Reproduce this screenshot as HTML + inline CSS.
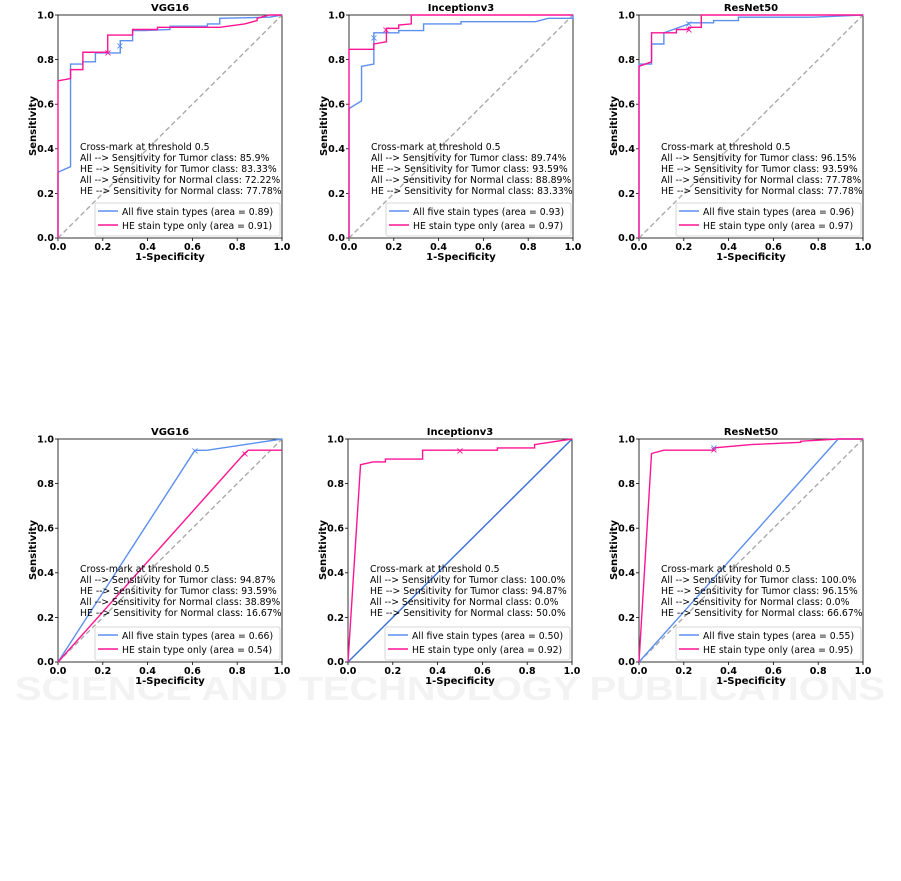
<!DOCTYPE html>
<html><head><meta charset="utf-8"><style>
html,body{margin:0;padding:0;background:#fff}
svg{display:block;font-family:"DejaVu Sans","Liberation Sans",sans-serif}
.t{font-size:9.3px;fill:#000}
.tk{font-size:9.5px;font-weight:bold;fill:#000}
.ttl{font-size:10px;font-weight:bold;text-anchor:middle}
.ax{font-size:10px;font-weight:bold;text-anchor:middle}
.b{fill:none;stroke:#5b8ff0;stroke-width:1.4}
.p{fill:none;stroke:#ff1493;stroke-width:1.4}
.d{fill:none;stroke:#aaa;stroke-width:1.4;stroke-dasharray:5,3}
.n{vector-effect:non-scaling-stroke}
</style></head><body>
<svg width="901" height="881" viewBox="0 0 901 881" xmlns="http://www.w3.org/2000/svg">
<defs>
<g id="frame">
<rect x="0" y="0" width="224" height="223" fill="none" stroke="#000" stroke-width="0.8"/>
<g stroke="#000" stroke-width="0.8">
<line x1="0" y1="223" x2="0" y2="226"/><line x1="44.8" y1="223" x2="44.8" y2="226"/><line x1="89.6" y1="223" x2="89.6" y2="226"/><line x1="134.4" y1="223" x2="134.4" y2="226"/><line x1="179.2" y1="223" x2="179.2" y2="226"/><line x1="224" y1="223" x2="224" y2="226"/>
<line x1="0" y1="0" x2="-3" y2="0"/><line x1="0" y1="44.6" x2="-3" y2="44.6"/><line x1="0" y1="89.2" x2="-3" y2="89.2"/><line x1="0" y1="133.8" x2="-3" y2="133.8"/><line x1="0" y1="178.4" x2="-3" y2="178.4"/><line x1="0" y1="223" x2="-3" y2="223"/>
</g>
<g class="tk" text-anchor="middle">
<text x="0" y="235">0.0</text><text x="44.8" y="235">0.2</text><text x="89.6" y="235">0.4</text><text x="134.4" y="235">0.6</text><text x="179.2" y="235">0.8</text><text x="224" y="235">1.0</text>
</g>
<g class="tk" text-anchor="end">
<text x="-4" y="226">0.0</text><text x="-4" y="181.8">0.2</text><text x="-4" y="137.2">0.4</text><text x="-4" y="92.6">0.6</text><text x="-4" y="48">0.8</text><text x="-4" y="3.4">1.0</text>
</g>
<text class="ax" x="112" y="245">1-Specificity</text>
<text class="ax" transform="translate(-22,111) rotate(-90)">Sensitivity</text>
<rect x="37" y="188" width="185" height="33" fill="#fff" fill-opacity="0.85" stroke="#ccc" stroke-width="0.8" rx="2"/>
<line x1="40" y1="196" x2="60" y2="196" stroke="#5b8ff0" stroke-width="1.4"/>
<line x1="40" y1="210" x2="60" y2="210" stroke="#ff1493" stroke-width="1.4"/>
</g>
</defs>

<g fill="#f3f3f3" font-family="Liberation Sans,sans-serif" font-weight="bold">
<text x="450" y="700" font-size="33" text-anchor="middle" textLength="870" lengthAdjust="spacingAndGlyphs">SCIENCE AND TECHNOLOGY PUBLICATIONS</text>
</g>

<!-- Top left VGG16 -->
<g transform="translate(58,15)">
<use href="#frame"/>
<text class="ttl" x="112" y="-4">VGG16</text>
<g transform="translate(0,223) scale(224,-223)">
<polyline class="d n" points="0,0 1,1"/>
<polyline class="b n" points="0,0 0,0.295 0.056,0.32 0.056,0.78 0.111,0.78 0.111,0.79 0.167,0.79 0.167,0.83 0.278,0.83 0.278,0.885 0.333,0.885 0.333,0.93 0.389,0.93 0.5,0.935 0.5,0.95 0.667,0.95 0.667,0.96 0.722,0.96 0.722,0.985 0.944,0.99 1,1"/>
<polyline class="p n" points="0,0 0,0.705 0.056,0.715 0.056,0.755 0.111,0.755 0.111,0.833 0.222,0.833 0.222,0.91 0.333,0.91 0.333,0.935 0.444,0.935 0.444,0.945 0.722,0.945 0.833,0.96 0.889,0.975 0.889,0.985 0.944,1 1,1"/>
</g>
<text x="62" y="34" fill="#5b8ff0" font-size="10" text-anchor="middle">×</text>
<text x="50" y="41" fill="#ff1493" font-size="10" text-anchor="middle">×</text>
<g class="t"><text x="22" y="135">Cross-mark at threshold 0.5</text><text x="22" y="146">All --&gt; Sensitivity for Tumor class: 85.9%</text><text x="22" y="157">HE --&gt; Sensitivity for Tumor class: 83.33%</text><text x="22" y="168">All --&gt; Sensitivity for Normal class: 72.22%</text><text x="22" y="179">HE --&gt; Sensitivity for Normal class: 77.78%</text>
<text x="64" y="200">All five stain types (area = 0.89)</text><text x="64" y="214">HE stain type only (area = 0.91)</text></g>
</g>

<!-- Top middle Inceptionv3 -->
<g transform="translate(349,15)">
<use href="#frame"/>
<text class="ttl" x="112" y="-4">Inceptionv3</text>
<g transform="translate(0,223) scale(224,-223)">
<polyline class="d n" points="0,0 1,1"/>
<polyline class="b n" points="0,0 0,0.58 0.056,0.615 0.056,0.77 0.111,0.78 0.111,0.92 0.222,0.92 0.222,0.93 0.333,0.93 0.333,0.96 0.5,0.96 0.5,0.97 0.833,0.97 0.889,0.985 1,0.985 1,1"/>
<polyline class="p n" points="0,0 0,0.846 0.111,0.846 0.111,0.87 0.167,0.88 0.167,0.94 0.222,0.94 0.222,0.955 0.278,0.96 0.278,1 1,1"/>
</g>
<text x="25" y="26" fill="#5b8ff0" font-size="10" text-anchor="middle">×</text>
<text x="37" y="18" fill="#ff1493" font-size="10" text-anchor="middle">×</text>
<g class="t"><text x="22" y="135">Cross-mark at threshold 0.5</text><text x="22" y="146">All --&gt; Sensitivity for Tumor class: 89.74%</text><text x="22" y="157">HE --&gt; Sensitivity for Tumor class: 93.59%</text><text x="22" y="168">All --&gt; Sensitivity for Normal class: 88.89%</text><text x="22" y="179">HE --&gt; Sensitivity for Normal class: 83.33%</text>
<text x="64" y="200">All five stain types (area = 0.93)</text><text x="64" y="214">HE stain type only (area = 0.97)</text></g>
</g>

<!-- Top right ResNet50 -->
<g transform="translate(639,15)">
<use href="#frame"/>
<text class="ttl" x="112" y="-4">ResNet50</text>
<g transform="translate(0,223) scale(224,-223)">
<polyline class="d n" points="0,0 1,1"/>
<polyline class="b n" points="0,0 0,0.78 0.056,0.78 0.056,0.87 0.111,0.87 0.111,0.92 0.222,0.96 0.222,0.965 0.333,0.965 0.333,0.975 0.444,0.975 0.444,0.99 0.778,0.99 1,1"/>
<polyline class="p n" points="0,0 0,0.77 0.056,0.79 0.056,0.92 0.167,0.92 0.167,0.935 0.222,0.935 0.222,0.945 0.278,0.945 0.278,1 1,1"/>
</g>
<text x="50" y="12" fill="#5b8ff0" font-size="10" text-anchor="middle">×</text>
<text x="50" y="18" fill="#ff1493" font-size="10" text-anchor="middle">×</text>
<g class="t"><text x="22" y="135">Cross-mark at threshold 0.5</text><text x="22" y="146">All --&gt; Sensitivity for Tumor class: 96.15%</text><text x="22" y="157">HE --&gt; Sensitivity for Tumor class: 93.59%</text><text x="22" y="168">All --&gt; Sensitivity for Normal class: 77.78%</text><text x="22" y="179">HE --&gt; Sensitivity for Normal class: 77.78%</text>
<text x="64" y="200">All five stain types (area = 0.96)</text><text x="64" y="214">HE stain type only (area = 0.97)</text></g>
</g>

<!-- Bottom left VGG16 -->
<g transform="translate(58,439)">
<use href="#frame"/>
<text class="ttl" x="112" y="-4">VGG16</text>
<g transform="translate(0,223) scale(224,-223)">
<polyline class="d n" points="0,0 1,1"/>
<polyline class="b n" points="0,0 0.611,0.949 0.667,0.95 1,1"/>
<polyline class="p n" points="0,0 0.833,0.936 0.85,0.95 1,0.95"/>
</g>
<text x="137" y="15" fill="#5b8ff0" font-size="10" text-anchor="middle">×</text>
<text x="187" y="18" fill="#ff1493" font-size="10" text-anchor="middle">×</text>
<g class="t"><text x="22" y="133">Cross-mark at threshold 0.5</text><text x="22" y="144">All --&gt; Sensitivity for Tumor class: 94.87%</text><text x="22" y="155">HE --&gt; Sensitivity for Tumor class: 93.59%</text><text x="22" y="166">All --&gt; Sensitivity for Normal class: 38.89%</text><text x="22" y="177">HE --&gt; Sensitivity for Normal class: 16.67%</text>
<text x="64" y="200">All five stain types (area = 0.66)</text><text x="64" y="214">HE stain type only (area = 0.54)</text></g>
</g>

<!-- Bottom middle Inceptionv3 -->
<g transform="translate(348,439)">
<use href="#frame"/>
<text class="ttl" x="112" y="-4">Inceptionv3</text>
<g transform="translate(0,223) scale(224,-223)">
<polyline class="b n" points="0,0 1,1" style="stroke:#3a6fd8"/>
<polyline class="p n" points="0,0 0.056,0.885 0.111,0.897 0.167,0.897 0.167,0.91 0.333,0.91 0.333,0.95 0.667,0.95 0.667,0.96 0.833,0.96 0.833,0.975 1,1"/>
</g>
<text x="112" y="15" fill="#ff1493" font-size="10" text-anchor="middle">×</text>
<g class="t"><text x="22" y="133">Cross-mark at threshold 0.5</text><text x="22" y="144">All --&gt; Sensitivity for Tumor class: 100.0%</text><text x="22" y="155">HE --&gt; Sensitivity for Tumor class: 94.87%</text><text x="22" y="166">All --&gt; Sensitivity for Normal class: 0.0%</text><text x="22" y="177">HE --&gt; Sensitivity for Normal class: 50.0%</text>
<text x="64" y="200">All five stain types (area = 0.50)</text><text x="64" y="214">HE stain type only (area = 0.92)</text></g>
</g>

<!-- Bottom right ResNet50 -->
<g transform="translate(639,439)">
<use href="#frame"/>
<text class="ttl" x="112" y="-4">ResNet50</text>
<g transform="translate(0,223) scale(224,-223)">
<polyline class="d n" points="0,0 1,1"/>
<polyline class="b n" points="0,0 0.889,1 1,1"/>
<polyline class="p n" points="0,0 0.056,0.935 0.111,0.95 0.333,0.95 0.333,0.96 0.5,0.975 0.722,0.985 0.722,0.99 0.889,1 1,1"/>
</g>
<text x="75" y="12" fill="#5b8ff0" font-size="10" text-anchor="middle">×</text>
<text x="75" y="14" fill="#ff1493" font-size="10" text-anchor="middle">×</text>
<g class="t"><text x="22" y="133">Cross-mark at threshold 0.5</text><text x="22" y="144">All --&gt; Sensitivity for Tumor class: 100.0%</text><text x="22" y="155">HE --&gt; Sensitivity for Tumor class: 96.15%</text><text x="22" y="166">All --&gt; Sensitivity for Normal class: 0.0%</text><text x="22" y="177">HE --&gt; Sensitivity for Normal class: 66.67%</text>
<text x="64" y="200">All five stain types (area = 0.55)</text><text x="64" y="214">HE stain type only (area = 0.95)</text></g>
</g>
</svg>
</body></html>
